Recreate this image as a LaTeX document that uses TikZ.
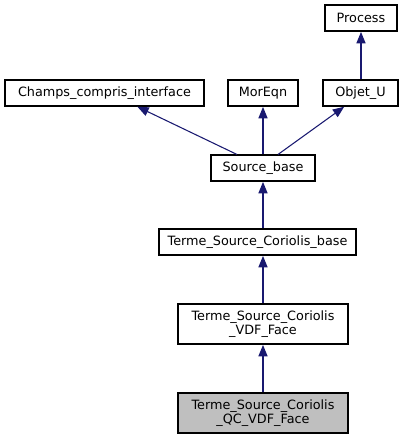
\documentclass[tikz,border=0pt]{standalone}
\usepackage{fontspec}
\setmainfont{DejaVu Sans}
\usetikzlibrary{arrows.meta}
\definecolor{edgeblue}{HTML}{191970}
\tikzset{
  cls/.style={draw=black, line width=0.8pt, fill=white, inner sep=0pt, align=center,
    font=\fontsize{9.6}{10.2}\selectfont},
  arr/.style={draw=edgeblue, line width=0.8pt, -{Triangle[length=8.5pt,width=6.8pt]}, shorten >=0.3pt}
}
\begin{document}
\begin{tikzpicture}[x=0.75pt,y=-0.75pt]
\useasboundingbox (0,0) rectangle (403,440);
\node[cls, minimum width=72*0.75pt, minimum height=26*0.75pt] (proc) at (361,18) {Process};
\node[cls, minimum width=199*0.75pt, minimum height=26*0.75pt] (cci) at (104.5,93) {Champs\_compris\_interface};
\node[cls, minimum width=70*0.75pt, minimum height=26*0.75pt] (mor) at (263,93) {MorEqn};
\node[cls, minimum width=75*0.75pt, minimum height=26*0.75pt] (obj) at (360.5,93) {Objet\_U};
\node[cls, minimum width=104*0.75pt, minimum height=26*0.75pt] (sb) at (263,168) {Source\_base};
\node[cls, minimum width=197*0.75pt, minimum height=26*0.75pt] (tscb) at (257.5,242) {Terme\_Source\_Coriolis\_base};
\node[cls, minimum width=170*0.75pt, minimum height=40*0.75pt] (vdf) at (263,324) {Terme\_Source\_Coriolis\\\_VDF\_Face};
\node[cls, fill={rgb,255:red,191;green,191;blue,191}, minimum width=170*0.75pt, minimum height=40*0.75pt] (qc) at (263,413) {Terme\_Source\_Coriolis\\\_QC\_VDF\_Face};
\draw[arr] (obj.north -| proc.south) -- (proc.south);
\draw[arr] ([xshift=-26*0.75pt]sb.north) -- ([xshift=32.5*0.75pt]cci.south);
\draw[arr] (sb.north) -- (mor.south);
\draw[arr] ([xshift=15*0.75pt]sb.north) -- ([xshift=-16*0.75pt]obj.south);
\draw[arr] (tscb.north -| sb.south) -- (sb.south);
\draw[arr] (vdf.north) -- (vdf.north |- tscb.south);
\draw[arr] (qc.north) -- (vdf.south);
\end{tikzpicture}
\end{document}
